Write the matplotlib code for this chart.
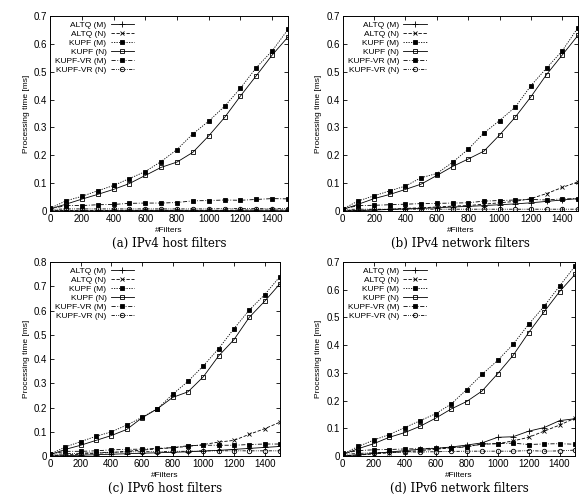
import matplotlib.pyplot as plt

filters = [0, 100, 200, 300, 400, 500, 600, 700, 800, 900, 1000, 1100, 1200, 1300, 1400, 1500]
series_names = ['ALTQ (M)', 'ALTQ (N)', 'KUPF (M)', 'KUPF (N)', 'KUPF-VR (M)', 'KUPF-VR (N)']

# (a) IPv4 host filters
a_altq_m = [0.001, 0.001, 0.001, 0.001, 0.002, 0.002, 0.002, 0.002, 0.002, 0.002, 0.002, 0.002, 0.003, 0.003, 0.003, 0.003]
a_altq_n = [0.002, 0.002, 0.002, 0.002, 0.003, 0.003, 0.003, 0.003, 0.003, 0.003, 0.003, 0.003, 0.004, 0.004, 0.004, 0.004]
a_kupf_m = [0.010, 0.037, 0.053, 0.073, 0.092, 0.117, 0.142, 0.178, 0.221, 0.277, 0.323, 0.376, 0.441, 0.515, 0.575, 0.652]
a_kupf_n = [0.008, 0.025, 0.043, 0.060, 0.078, 0.099, 0.128, 0.157, 0.176, 0.211, 0.270, 0.336, 0.413, 0.486, 0.560, 0.625]
a_vr_m = [0.008, 0.020, 0.020, 0.023, 0.024, 0.028, 0.029, 0.029, 0.031, 0.037, 0.038, 0.040, 0.039, 0.042, 0.045, 0.044]
a_vr_n = [0.006, 0.008, 0.008, 0.008, 0.008, 0.008, 0.008, 0.008, 0.008, 0.008, 0.008, 0.009, 0.009, 0.009, 0.009, 0.009]

# (b) IPv4 network filters
b_altq_m = [0.001, 0.002, 0.004, 0.006, 0.008, 0.010, 0.012, 0.015, 0.017, 0.020, 0.023, 0.026, 0.030, 0.035, 0.040, 0.045]
b_altq_n = [0.002, 0.003, 0.005, 0.007, 0.010, 0.012, 0.015, 0.018, 0.020, 0.025, 0.030, 0.035, 0.045, 0.063, 0.085, 0.105]
b_kupf_m = [0.008, 0.037, 0.055, 0.073, 0.090, 0.120, 0.135, 0.175, 0.222, 0.280, 0.325, 0.373, 0.450, 0.513, 0.575, 0.658]
b_kupf_n = [0.006, 0.025, 0.045, 0.060, 0.078, 0.097, 0.128, 0.160, 0.187, 0.215, 0.273, 0.337, 0.410, 0.490, 0.560, 0.630]
b_vr_m = [0.008, 0.020, 0.021, 0.023, 0.025, 0.027, 0.028, 0.029, 0.030, 0.036, 0.038, 0.040, 0.042, 0.040, 0.044, 0.045]
b_vr_n = [0.006, 0.007, 0.007, 0.007, 0.007, 0.007, 0.007, 0.007, 0.007, 0.007, 0.007, 0.007, 0.007, 0.007, 0.007, 0.007]

# (c) IPv6 host filters
c_altq_m = [0.001, 0.002, 0.004, 0.006, 0.008, 0.010, 0.012, 0.014, 0.016, 0.018, 0.021, 0.024, 0.028, 0.032, 0.036, 0.040]
c_altq_n = [0.002, 0.005, 0.008, 0.012, 0.015, 0.020, 0.025, 0.030, 0.035, 0.040, 0.048, 0.058, 0.065, 0.090, 0.113, 0.140]
c_kupf_m = [0.008, 0.038, 0.060, 0.082, 0.100, 0.128, 0.160, 0.195, 0.255, 0.308, 0.372, 0.443, 0.525, 0.602, 0.665, 0.740]
c_kupf_n = [0.006, 0.028, 0.045, 0.065, 0.085, 0.110, 0.158, 0.195, 0.242, 0.265, 0.327, 0.413, 0.480, 0.572, 0.638, 0.710]
c_vr_m = [0.008, 0.020, 0.020, 0.022, 0.026, 0.028, 0.029, 0.032, 0.035, 0.043, 0.045, 0.045, 0.045, 0.048, 0.050, 0.050]
c_vr_n = [0.006, 0.010, 0.012, 0.015, 0.016, 0.018, 0.018, 0.019, 0.020, 0.020, 0.022, 0.022, 0.022, 0.022, 0.022, 0.022]

# (d) IPv6 network filters
d_altq_m = [0.001, 0.005, 0.010, 0.015, 0.020, 0.025, 0.028, 0.033, 0.040, 0.048, 0.068, 0.070, 0.090, 0.103, 0.128, 0.135]
d_altq_n = [0.001, 0.004, 0.008, 0.012, 0.016, 0.020, 0.025, 0.030, 0.035, 0.043, 0.045, 0.055, 0.068, 0.090, 0.112, 0.137]
d_kupf_m = [0.008, 0.035, 0.058, 0.078, 0.103, 0.128, 0.153, 0.188, 0.240, 0.295, 0.345, 0.403, 0.475, 0.540, 0.613, 0.685]
d_kupf_n = [0.006, 0.027, 0.045, 0.068, 0.085, 0.108, 0.137, 0.170, 0.197, 0.235, 0.297, 0.363, 0.445, 0.520, 0.593, 0.655]
d_vr_m = [0.010, 0.020, 0.023, 0.024, 0.026, 0.027, 0.029, 0.031, 0.033, 0.044, 0.045, 0.047, 0.042, 0.044, 0.045, 0.043]
d_vr_n = [0.006, 0.010, 0.012, 0.014, 0.015, 0.015, 0.016, 0.017, 0.018, 0.018, 0.018, 0.018, 0.020, 0.018, 0.019, 0.022]

panels = [
    ('(a) IPv4 host filters', 0.7, [a_altq_m, a_altq_n, a_kupf_m, a_kupf_n, a_vr_m, a_vr_n]),
    ('(b) IPv4 network filters', 0.7, [b_altq_m, b_altq_n, b_kupf_m, b_kupf_n, b_vr_m, b_vr_n]),
    ('(c) IPv6 host filters', 0.8, [c_altq_m, c_altq_n, c_kupf_m, c_kupf_n, c_vr_m, c_vr_n]),
    ('(d) IPv6 network filters', 0.7, [d_altq_m, d_altq_n, d_kupf_m, d_kupf_n, d_vr_m, d_vr_n]),
]

# gnuplot-like line styles
styles = [
    dict(ls='-', marker='+', ms=4, mfc='none'),
    dict(ls=(0, (4, 2)), marker='x', ms=3.5, mfc='none'),
    dict(ls=(0, (1.5, 1.5)), marker='s', ms=2.2, mfc='black'),
    dict(ls='-', marker='s', ms=3.5, mfc='none'),
    dict(ls=(0, (5, 2, 1, 2)), marker='s', ms=3.2, mfc='black'),
    dict(ls=(0, (4, 1.5, 1, 1.5, 1, 1.5)), marker='o', ms=3.2, mfc='none'),
]

positions = [
    [0.086, 0.576, 0.409, 0.392],
    [0.589, 0.576, 0.404, 0.392],
    [0.086, 0.084, 0.395, 0.390],
    [0.589, 0.084, 0.399, 0.390],
]

plt.rcParams['font.family'] = ['Liberation Sans', 'DejaVu Sans']
fig = plt.figure(figsize=(5.82, 4.98), dpi=100)

for (caption, ymax, data), pos in zip(panels, positions):
    ax = fig.add_axes(pos)
    for name, vals, st in zip(series_names, data, styles):
        ax.plot(filters, vals, color='black', lw=0.6, mew=0.6, label=name, **st)
    ax.set_xlim(0, 1500)
    ax.set_ylim(0, ymax)
    ax.set_xticks(range(0, 1500, 200))
    nt = int(round(ymax * 10))
    ax.set_yticks([i / 10 for i in range(nt + 1)])
    ax.set_yticklabels(['0'] + ['%.1f' % (i / 10) for i in range(1, nt + 1)])
    ax.tick_params(direction='in', top=True, right=True, labelsize=7, length=3, width=0.6, pad=2)
    for sp in ax.spines.values():
        sp.set_linewidth(0.7)
    ax.set_xlabel('#Filters', fontsize=6, labelpad=2)
    ax.set_ylabel('Processing time [ms]', fontsize=6, labelpad=3)
    leg = ax.legend(loc='upper left', markerfirst=False, frameon=False, fontsize=6,
                    handlelength=2.8, handletextpad=0.5, labelspacing=0.15,
                    borderaxespad=0.2, bbox_to_anchor=(0.0, 1.0))
    for col in leg._legend_handle_box.get_children():
        col.align = 'right'
    ax.text(0.5, -0.165, caption, transform=ax.transAxes, ha='center', va='center',
            fontsize=8.5, family=['DejaVu Serif', 'Liberation Serif'])

fig.savefig('out.png', dpi=100)
